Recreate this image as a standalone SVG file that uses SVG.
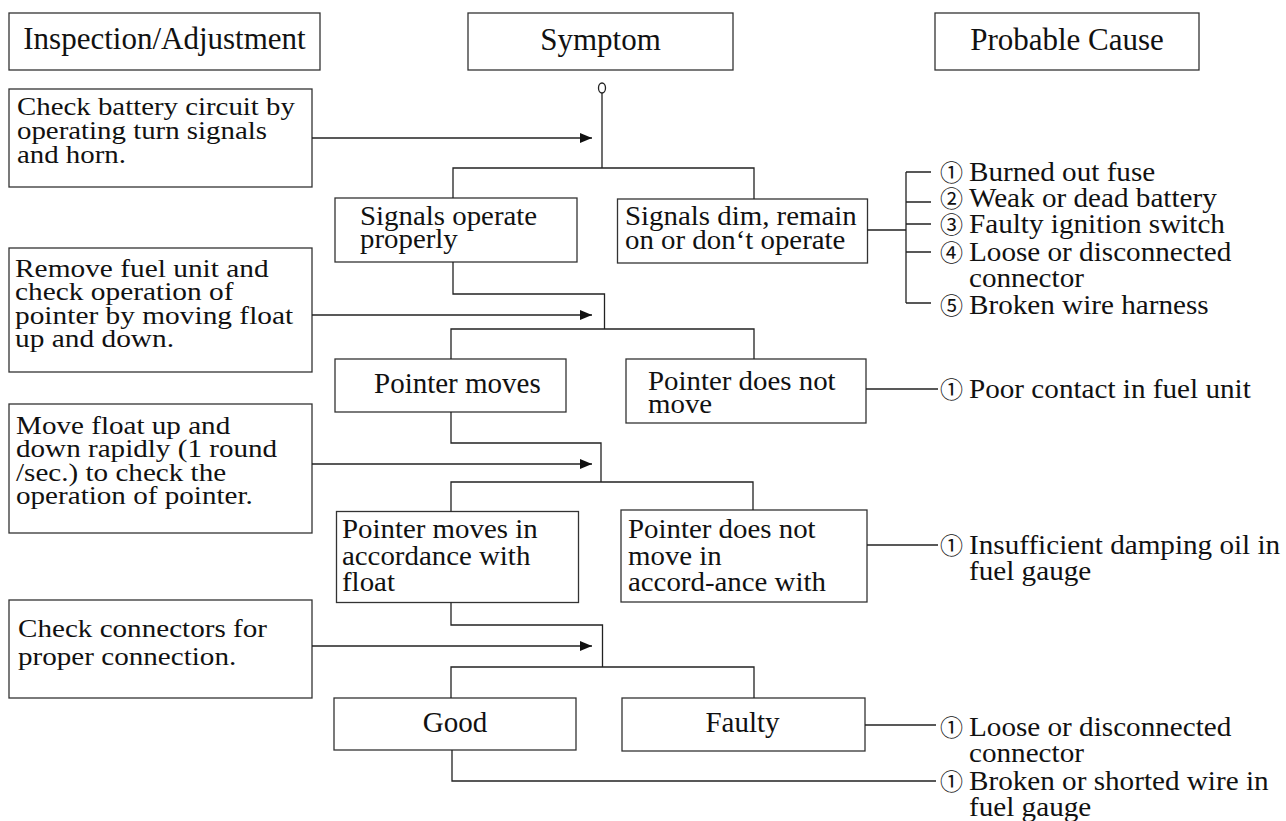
<svg xmlns="http://www.w3.org/2000/svg" width="1286" height="821" viewBox="0 0 1286 821">
<style>
.box{fill:#fff;stroke:#333;stroke-width:1.3}
.ln{fill:none;stroke:#222;stroke-width:1.3}
.t{font-family:'Liberation Serif','Times New Roman',serif;font-size:29px;fill:#111}
.h{font-size:31px}
.l{font-size:26px}
.r{font-size:27px}
.s{font-size:27.5px}
.c{font-family:'Noto Sans CJK JP','DejaVu Sans',sans-serif;font-size:23px;fill:#111}
</style>
<defs>
<marker id="arr" markerWidth="12" markerHeight="10" refX="12" refY="5" orient="auto" markerUnits="userSpaceOnUse"><path d="M0,0 L12,5 L0,10 z" fill="#111"/></marker>
</defs>
<rect width="1286" height="821" fill="#fff"/>

<g id="hdr-inspection"><rect class="box" x="9" y="13" width="311" height="57"/><text class="t h" x="164.5" y="49" text-anchor="middle">Inspection/Adjustment</text></g>
<g id="hdr-symptom"><rect class="box" x="468" y="13" width="265" height="57"/><text class="t h" x="600.5" y="50" text-anchor="middle">Symptom</text></g>
<g id="hdr-cause"><rect class="box" x="935" y="13" width="264" height="57"/><text class="t h" x="1067" y="50" text-anchor="middle">Probable Cause</text></g>

<g id="insp1"><rect class="box" x="9" y="89" width="303" height="98"/><text class="t l" transform="translate(17,0) scale(1.11,1)"><tspan x="0" y="115">Check battery circuit by</tspan><tspan x="0" y="139">operating turn signals</tspan><tspan x="0" y="163">and horn.</tspan></text></g>
<g id="insp2"><rect class="box" x="9" y="248" width="303" height="124"/><text class="t l" transform="translate(15,0) scale(1.13,1)"><tspan x="0" y="277">Remove fuel unit and</tspan><tspan x="0" y="300">check operation of</tspan><tspan x="0" y="324">pointer by moving float</tspan><tspan x="0" y="347">up and down.</tspan></text></g>
<g id="insp3"><rect class="box" x="9" y="404" width="303" height="129"/><text class="t l" transform="translate(16,0) scale(1.12,1)"><tspan x="0" y="434">Move float up and</tspan><tspan x="0" y="457">down rapidly (1 round</tspan><tspan x="0" y="481">/sec.) to check the</tspan><tspan x="0" y="504">operation of pointer.</tspan></text></g>
<g id="insp4"><rect class="box" x="9" y="600" width="303" height="98"/><text class="t l" transform="translate(18,0) scale(1.12,1)"><tspan x="0" y="637">Check connectors for</tspan><tspan x="0" y="665">proper connection.</tspan></text></g>

<g id="s-ok"><rect class="box" x="335" y="198" width="242" height="64"/><text class="t s" transform="translate(360,0) scale(1.05,1)"><tspan x="0" y="225">Signals operate</tspan><tspan x="0" y="248">properly</tspan></text></g>
<g id="s-dim"><rect class="box" x="617.5" y="199" width="250" height="64"/><text class="t s" transform="translate(625,0) scale(1.05,1)"><tspan x="0" y="225">Signals dim, remain</tspan><tspan x="0" y="249">on or don‘t operate</tspan></text></g>
<g id="s-moves"><rect class="box" x="335" y="359" width="231" height="53"/><text class="t" x="374" y="393">Pointer moves</text></g>
<g id="s-nomove"><rect class="box" x="626" y="359" width="240" height="64"/><text class="t s" transform="translate(648,0) scale(1.05,1)"><tspan x="0" y="390">Pointer does not</tspan><tspan x="0" y="413">move</tspan></text></g>
<g id="s-accord"><rect class="box" x="336.5" y="511.5" width="242" height="91"/><text class="t s" transform="translate(342,0) scale(1.05,1)"><tspan x="0" y="538">Pointer moves in</tspan><tspan x="0" y="565">accordance with</tspan><tspan x="0" y="591">float</tspan></text></g>
<g id="s-noaccord"><rect class="box" x="621" y="510" width="246" height="92"/><text class="t s" transform="translate(628,0) scale(1.05,1)"><tspan x="0" y="538">Pointer does not</tspan><tspan x="0" y="565">move in</tspan><tspan x="0" y="591">accord-ance with</tspan></text></g>
<g id="s-good"><rect class="box" x="334" y="698" width="242" height="52"/><text class="t" x="455" y="732" text-anchor="middle">Good</text></g>
<g id="s-faulty"><rect class="box" x="622" y="698" width="243" height="53"/><text class="t" x="742.5" y="732" text-anchor="middle">Faulty</text></g>

<g id="cause1">
<text class="c" x="940" y="181">①</text>
<text class="c" x="940" y="207">②</text>
<text class="c" x="940" y="233">③</text>
<text class="c" x="940" y="261">④</text>
<text class="c" x="940" y="314">⑤</text>
<text class="t r" transform="translate(969,0) scale(1.08,1)"><tspan x="0" y="181">Burned out fuse</tspan><tspan x="0" y="207">Weak or dead battery</tspan><tspan x="0" y="233">Faulty ignition switch</tspan><tspan x="0" y="261">Loose or disconnected</tspan><tspan x="0" y="287">connector</tspan><tspan x="0" y="314">Broken wire harness</tspan></text>
</g>
<g id="cause2"><text class="c" x="940" y="398">①</text><text class="t r" transform="translate(969,0) scale(1.08,1)" x="0" y="398">Poor contact in fuel unit</text></g>
<g id="cause3"><text class="c" x="940" y="554">①</text><text class="t r" transform="translate(969,0) scale(1.08,1)"><tspan x="0" y="554">Insufficient damping oil in</tspan><tspan x="0" y="580">fuel gauge</tspan></text></g>
<g id="cause4"><text class="c" x="940" y="736">①</text><text class="t r" transform="translate(969,0) scale(1.08,1)"><tspan x="0" y="736">Loose or disconnected</tspan><tspan x="0" y="762">connector</tspan></text></g>
<g id="cause5"><text class="c" x="940" y="790">①</text><text class="t r" transform="translate(969,0) scale(1.08,1)"><tspan x="0" y="790">Broken or shorted wire in</tspan><tspan x="0" y="816">fuel gauge</tspan></text></g>

<g id="connectors">
<ellipse class="ln" cx="602" cy="88" rx="3.5" ry="5"/>
<path class="ln" d="M602,93 V168 M453,198 V168 H754 V199"/>
<path class="ln" d="M312,138 H592" marker-end="url(#arr)"/>
<path class="ln" d="M867,230 H906 M906,172 V303 M906,172 H931 M906,202 H931 M906,224 H931 M906,252 H931 M906,303 H931"/>
<path class="ln" d="M453,262 V294 H604.5 V329 M451,359 V329 H754 V359"/>
<path class="ln" d="M312,315 H592" marker-end="url(#arr)"/>
<path class="ln" d="M866,389 H938"/>
<path class="ln" d="M451,412 V443 H601 V482 M451,511.5 V482 H753 V510"/>
<path class="ln" d="M312,464 H592" marker-end="url(#arr)"/>
<path class="ln" d="M867,545 H938"/>
<path class="ln" d="M451,602.5 V625 H602.5 V667 M451,698 V667 H754 V698"/>
<path class="ln" d="M312,646 H592" marker-end="url(#arr)"/>
<path class="ln" d="M865,725 H936"/>
<path class="ln" d="M452,750 V781 H936"/>
</g>
</svg>
